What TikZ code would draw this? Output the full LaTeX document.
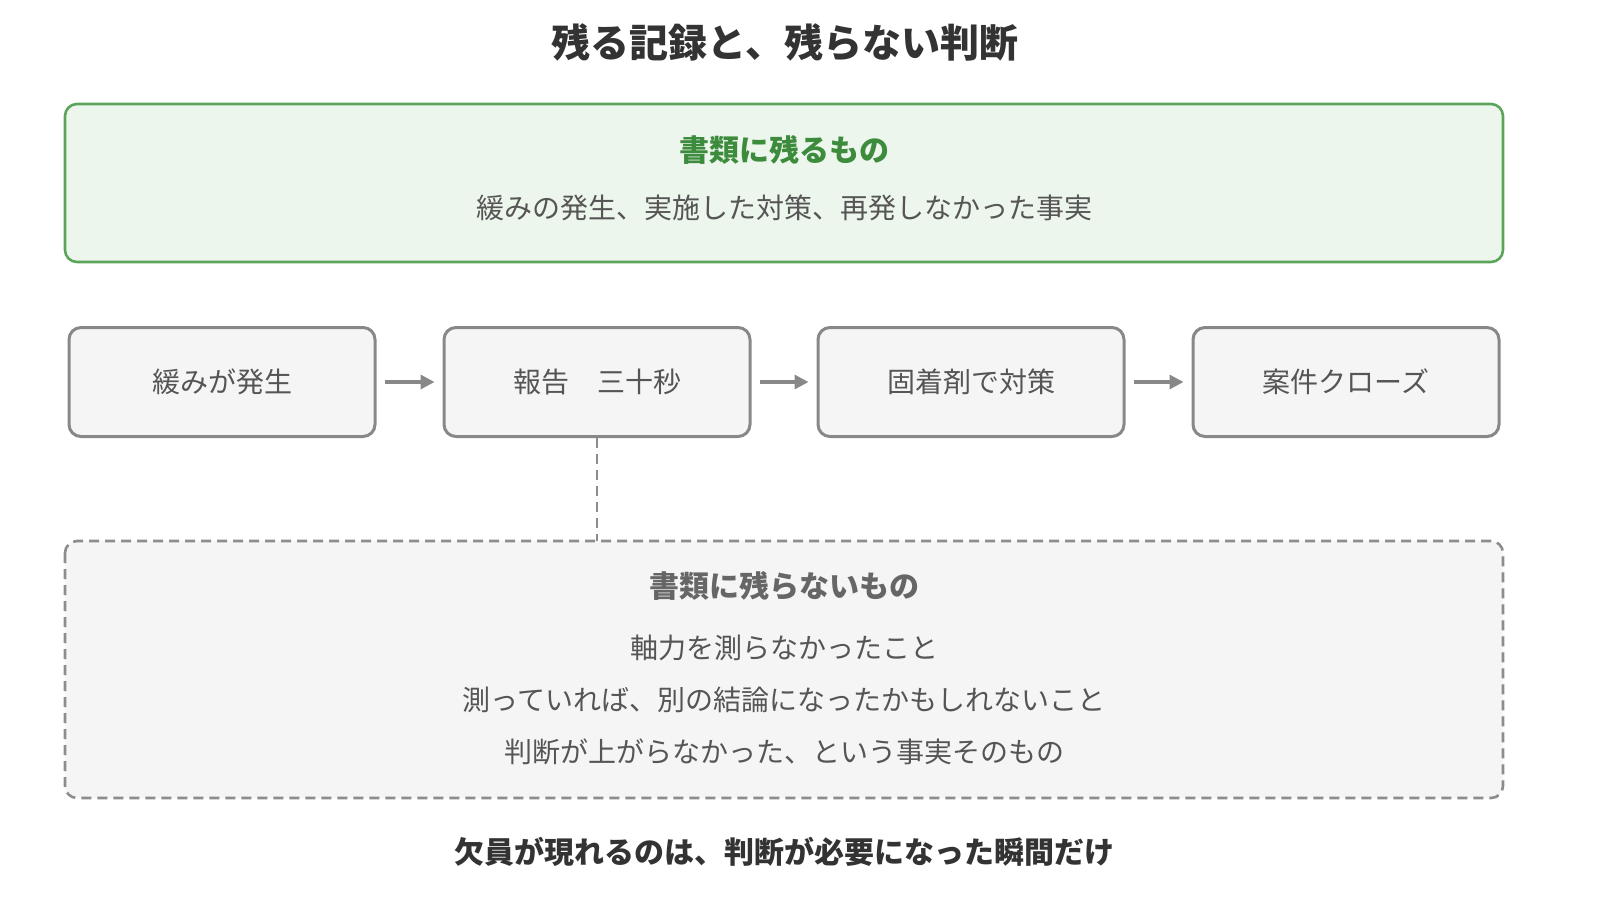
\documentclass[tikz,border=0pt]{standalone}
\usepackage{fontspec}
\setmainfont{Noto Sans CJK JP}
\usetikzlibrary{arrows.meta}
\definecolor{dk}{HTML}{333333}
\definecolor{tx}{HTML}{555555}
\definecolor{gb}{HTML}{5BA55A}
\definecolor{gf}{HTML}{EDF6EC}
\definecolor{gt}{HTML}{3D8B3D}
\definecolor{bx}{HTML}{888888}
\begin{document}
\begin{tikzpicture}[x=0.5pt,y=-0.5pt,
 stepbox/.style={draw=bx,line width=1.5pt,fill=black!4,rounded corners=6pt,minimum width=153pt,minimum height=54.5pt,font=\fontsize{14}{16}\selectfont,text=tx},
 arr/.style={draw=bx,line width=1.6pt,shorten <=4pt,shorten >=4pt,-{Triangle[length=7pt,width=7pt]}},
 txt/.style={font=\fontsize{14}{16}\selectfont,text=tx}]
\useasboundingbox (0,0) rectangle (1600,923);
\node[font=\bfseries\fontsize{19.5}{22}\selectfont,text=dk] (title) at (785,42) {残る記録と、残らない判断};
\draw[draw=gb,fill=gf,line width=1.3pt,rounded corners=6pt] (65,104) rectangle (1503,262);
\node[font=\bfseries\fontsize{15}{18}\selectfont,text=gt] (gh) at (784,150) {書類に残るもの};
\node[txt] (gs) at (784,208) {緩みの発生、実施した対策、再発しなかった事実};
\node[stepbox] (s1) at (222,382) {緩みが発生};
\node[stepbox] (s2) at (597,382) {報告　三十秒};
\node[stepbox] (s3) at (971,382) {固着剤で対策};
\node[stepbox] (s4) at (1346,382) {案件クローズ};
\draw[arr] (s1) -- (s2);
\draw[arr] (s2) -- (s3);
\draw[arr] (s3) -- (s4);
\draw[draw=black!45,fill=black!4,line width=1.3pt,dash pattern=on 5pt off 3pt,rounded corners=6pt] (65,541) rectangle (1503,798);
\coordinate (db) at (597,541);
\draw[draw=black!45,line width=1.3pt,dash pattern=on 5pt off 3pt] (s2.south) -- (db);
\node[font=\bfseries\fontsize{15}{18}\selectfont,text=black!60] (nh) at (784,586) {書類に残らないもの};
\node[txt] (n1) at (784,648) {軸力を測らなかったこと};
\node[txt] (n2) at (784,700) {測っていれば、別の結論になったかもしれないこと};
\node[txt] (n3) at (784,752) {判断が上がらなかった、という事実そのもの};
\node[font=\bfseries\fontsize{15}{18}\selectfont,text=dk] (ft) at (784,852) {欠員が現れるのは、判断が必要になった瞬間だけ};
\end{tikzpicture}
\end{document}
